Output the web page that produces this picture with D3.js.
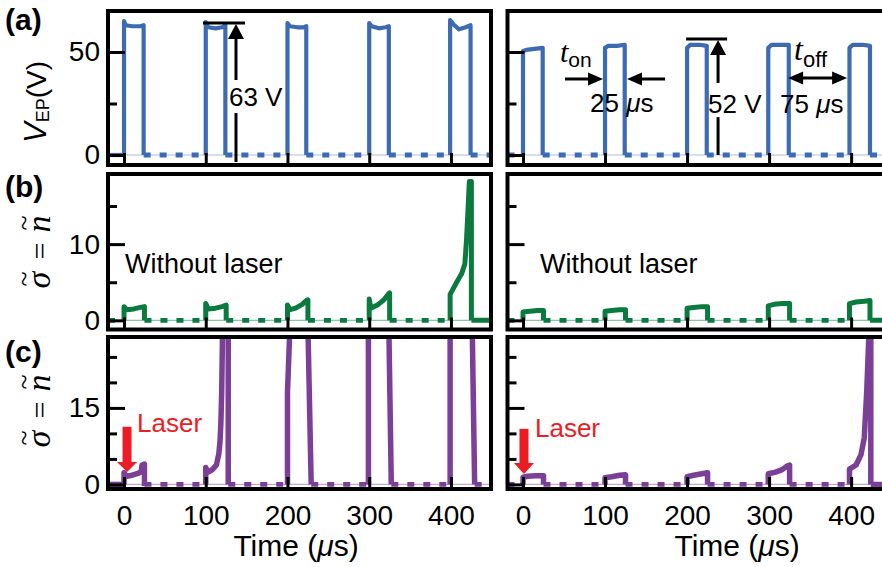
<!DOCTYPE html>
<html><head><meta charset="utf-8">
<script src="https://cdn.jsdelivr.net/npm/d3@7"></script>
<style>body{margin:0;background:#fff}svg{display:block}</style>
</head><body>
<svg id="chart" width="882" height="567"></svg>
<script>
// ---------------- data ----------------
const timeTicks = [0, 100, 200, 300, 400];
const timeDomainLeft = [-19.6, 449];
const timeDomainRight = [-18.9, 448];

const vepDomain = [-4.85, 69.9];
const vepMajor = [0, 50];
const vepMinor = [25];

const sigmaBDomain = [-1.2, 19.2];
const sigmaBMajor = [0, 10];
const sigmaBMinor = [5, 15];

const sigmaCDomain = [-0.9, 28.9];
const sigmaCMajor = [0, 15];
const sigmaCMinor = [5, 10, 20, 25];

// (a) left: V_EP pulses, peak 63 V
const vepLeft = [
  [[0,0],[0,65],[2,63],[10,62.5],[20,62.5],[24,63],[24,0]],
  [[100,0],[100,64.5],[103,62],[112,61.5],[120,62],[124,63],[124,0]],
  [[200,0],[200,64],[203,62.5],[212,62],[220,62],[223,62.5],[223,0]],
  [[300,0],[300,64],[303,62.5],[312,61.5],[320,62],[324,62.5],[324,0]],
  [[399,0],[399,65.5],[404,63],[410,61],[418,62],[424,63],[424,0]]
];
// (a) right: V_EP pulses, peak 52 V
const vepRight = [
  [[0,0],[0,50.5],[4,51],[14,51.5],[24,52],[24,0]],
  [[100,0],[100,52],[104,53],[115,53],[124,53.5],[124,0]],
  [[200,0],[200,52],[204,53.5],[215,53.5],[224,53],[224,0]],
  [[299,0],[299,52],[303,53.5],[315,53.5],[324,53.5],[324,0]],
  [[398,0],[398,52],[402,53.5],[414,53.5],[423,53],[423,0]]
];
// (b) left: sigma without laser
const sigmaBLeft = [
  [[0,0],[0,1.8],[3,1.4],[12,1.5],[20,1.7],[25,1.8],[25,0]],
  [[100,0],[100,2.2],[103,1.5],[112,1.6],[120,1.8],[125,2.0],[125,0]],
  [[200,0],[200,2.0],[203,1.4],[210,1.6],[218,2.1],[223,2.6],[225,2.7],[225,0]],
  [[300,0],[300,2.8],[302,1.6],[310,2.0],[318,2.7],[323,3.4],[325,3.6],[325,0]],
  [[399,0],[399,3.4],[407,5.0],[413,6.1],[417,7.4],[419,10.5],[421,14.8],[422.5,18.2],[425,18.2],[425,0]]
];
// (b) right: sigma without laser
const sigmaBRight = [
  [[0,0],[0,1.1],[8,1.2],[18,1.3],[25,1.3],[25,0]],
  [[100,0],[100,1.2],[108,1.3],[118,1.4],[125,1.4],[125,0]],
  [[200,0],[200,1.6],[208,1.7],[218,1.8],[225,1.8],[225,0]],
  [[299,0],[299,1.9],[306,2.1],[316,2.2],[325,2.2],[325,0]],
  [[398,0],[398,2.2],[406,2.4],[416,2.5],[423,2.6],[423,0]]
];
// (c) left: sigma with laser
const sigmaCLeft = [
  [[0,0],[0,2.3],[3,1.6],[10,1.8],[18,2.2],[21,2.5],[22,3.8],[25,4.0],[25,-0.3]],
  [[100,0],[100,3.3],[103,2.4],[108,2.9],[113,3.8],[116,6],[117.5,8.5],[118.5,12],[119.5,18],[120.5,29.5],[121,30],[127.5,30],[127.5,0]],
  [[200,0],[200,18],[203,31],[225,31],[229,0]],
  [[299,0],[299,31],[324,31],[327,0]],
  [[399,0],[399,31],[426,31],[429,0]]
];
// (c) right: sigma with laser
const sigmaCRight = [
  [[0,0],[0,1.4],[6,1.6],[15,1.7],[25,1.7],[25,0]],
  [[100,0],[100,1.3],[108,1.5],[118,1.8],[125,1.9],[125,0]],
  [[200,0],[200,1.5],[208,1.8],[218,2.1],[225,2.3],[225,0]],
  [[299,0],[299,2.1],[308,2.4],[316,2.9],[322,3.6],[325,3.8],[325,0]],
  [[398,0],[398,3.0],[406,3.8],[412,5.8],[416,9.1],[419,18.2],[421.5,28.7],[424,29.5],[424,0]]
];

// ---------------- layout ----------------
const BLUE = "#3d6bb3", GREEN = "#0a7a3e", PURPLE = "#7b3f98", RED = "#ec1c24";
const FONT = "'Liberation Sans', Arial, Helvetica, sans-serif";
const SERIF = "'Liberation Serif', 'DejaVu Serif', serif";

const panels = [
  {id:"aL", box:[108,11,491,165], tdom:timeDomainLeft, ydom:vepDomain, data:vepLeft, color:BLUE, light:"#a9bde2", sw:4.2, pre:"solid", post:"dash", major:vepMajor, minor:vepMinor, yLabels:true, xLabels:false},
  {id:"aR", box:[507.5,11,890.5,165], tdom:timeDomainRight, ydom:vepDomain, data:vepRight, color:BLUE, light:"#a9bde2", sw:4.2, pre:"dash", post:"dash", major:vepMajor, minor:vepMinor, yLabels:false, xLabels:false},
  {id:"bL", box:[108,174,491,329.5], tdom:timeDomainLeft, ydom:sigmaBDomain, data:sigmaBLeft, color:GREEN, light:"#8fc4a5", sw:5, pre:"dash", post:"solid", major:sigmaBMajor, minor:sigmaBMinor, yLabels:true, xLabels:false},
  {id:"bR", box:[507.5,174,890.5,329.5], tdom:timeDomainRight, ydom:sigmaBDomain, data:sigmaBRight, color:GREEN, light:"#8fc4a5", sw:5, pre:"dash", post:"solid", major:sigmaBMajor, minor:sigmaBMinor, yLabels:false, xLabels:false},
  {id:"cL", box:[108,337,491,489], tdom:timeDomainLeft, ydom:sigmaCDomain, data:sigmaCLeft, color:PURPLE, light:"#c3a6d3", sw:5.5, pre:"solid", post:"dash", major:sigmaCMajor, minor:sigmaCMinor, yLabels:true, xLabels:true},
  {id:"cR", box:[507.5,337,890.5,489], tdom:timeDomainRight, ydom:sigmaCDomain, data:sigmaCRight, color:PURPLE, light:"#c3a6d3", sw:5.5, pre:"dash", post:"solid", major:sigmaCMajor, minor:sigmaCMinor, yLabels:false, xLabels:true}
];

const svg = d3.select("#chart");
svg.append("rect").attr("width",882).attr("height",567).attr("fill","#fff");
const defs = svg.append("defs");
const S = {};

panels.forEach(p => {
  const [x0,y0,x1,y1] = p.box;
  const x = d3.scaleLinear().domain(p.tdom).range([x0,x1]);
  const y = d3.scaleLinear().domain(p.ydom).range([y1,y0]);
  S[p.id] = {x,y};
  defs.append("clipPath").attr("id","clip-"+p.id).append("rect")
    .attr("x",x0).attr("y",y0).attr("width",x1-x0).attr("height",y1-y0);
  const g = svg.append("g");
  const gc = g.append("g").attr("clip-path","url(#clip-"+p.id+")");
  const line = d3.line().x(d=>x(d[0])).y(d=>y(d[1]));

  gc.append("path").attr("d", line([[p.tdom[0],0],[p.tdom[1],0]]))
    .attr("stroke",p.light).attr("stroke-width",1.2).attr("fill","none");

  const segs = [];
  const first = p.data[0][0][0];
  const lastPulse = p.data[p.data.length-1];
  const last = lastPulse[lastPulse.length-1][0];
  segs.push({pts:[[p.tdom[0],0],[first,0]], style:p.pre});
  for (let i=0;i<p.data.length-1;i++){
    const a = p.data[i][p.data[i].length-1][0];
    const b = p.data[i+1][0][0];
    segs.push({pts:[[a,0],[b,0]], style:"dash"});
  }
  segs.push({pts:[[last,0],[p.tdom[1]+30,0]], style:p.post});
  segs.forEach(s => {
    gc.append("path").attr("d", line(s.pts)).attr("fill","none")
      .attr("stroke",p.color)
      .attr("stroke-width", s.style==="dash" ? 4.8 : p.sw)
      .attr("stroke-dasharray", s.style==="dash" ? "7 9" : null);
  });

  gc.selectAll("path.pulse").data(p.data).join("path").attr("class","pulse")
    .attr("d", line).attr("fill","none").attr("stroke",p.color)
    .attr("stroke-width",p.sw).attr("stroke-linejoin","round");

  const yMaj = g.append("g").attr("transform",`translate(${x0},0)`)
    .call(d3.axisRight(y).tickValues(p.major).tickSize(17).tickFormat(""));
  const yMin = g.append("g").attr("transform",`translate(${x0},0)`)
    .call(d3.axisRight(y).tickValues(p.minor).tickSize(9).tickFormat(""));
  const xT = g.append("g").attr("transform",`translate(0,${y1})`)
    .call(d3.axisTop(x).tickValues(timeTicks).tickSize(12).tickFormat(""));
  [yMaj,yMin,xT].forEach(a => {
    a.select(".domain").remove();
    a.selectAll("line").attr("stroke","#000").attr("stroke-width",3);
  });

  if (p.yLabels) {
    const yl = g.append("g").attr("transform",`translate(${x0},0)`)
      .call(d3.axisLeft(y).tickValues(p.major).tickSize(0).tickPadding(8).tickFormat(d3.format("d")));
    yl.select(".domain").remove();
    yl.selectAll("text").attr("font-family",FONT).attr("font-size",28).attr("fill","#000");
  }
  if (p.xLabels) {
    const xl = g.append("g").attr("transform",`translate(0,${y1})`)
      .call(d3.axisBottom(x).tickValues(timeTicks).tickSize(0).tickPadding(16).tickFormat(d3.format("d")));
    xl.select(".domain").remove();
    xl.selectAll("text").attr("font-family",FONT).attr("font-size",28).attr("fill","#000");
  }

  g.append("rect").attr("x",x0).attr("y",y0).attr("width",x1-x0).attr("height",y1-y0)
    .attr("fill","none").attr("stroke","#000").attr("stroke-width",4);
});

// ---------------- text & annotations ----------------
const ann = svg.append("g");
function txt(x, y, s, size, opts={}) {
  return ann.append("text").attr("x",x).attr("y",y).text(s)
    .attr("font-family",opts.family||FONT).attr("font-size",size)
    .attr("font-weight",opts.weight||"normal").attr("font-style",opts.style||"normal")
    .attr("fill",opts.fill||"#000").attr("text-anchor",opts.anchor||"start");
}
function seg(xa,ya,xb,yb,w,c){
  ann.append("line").attr("x1",xa).attr("y1",ya).attr("x2",xb).attr("y2",yb)
    .attr("stroke",c||"#000").attr("stroke-width",w||3);
}
function head(tx,ty,dir,len,hw,c){
  let pts;
  if (dir==="up") pts=[[tx,ty],[tx-hw,ty+len],[tx+hw,ty+len]];
  if (dir==="down") pts=[[tx,ty],[tx-hw,ty-len],[tx+hw,ty-len]];
  if (dir==="right") pts=[[tx,ty],[tx-len,ty-hw],[tx-len,ty+hw]];
  if (dir==="left") pts=[[tx,ty],[tx+len,ty-hw],[tx+len,ty+hw]];
  ann.append("path").attr("d","M"+pts.map(p=>p.join(",")).join("L")+"Z").attr("fill",c||"#000");
}

// panel letters
txt(5,30,"(a)",30,{weight:"bold"});
txt(5,197,"(b)",30,{weight:"bold"});
txt(5,362,"(c)",30,{weight:"bold"});

// y-axis titles
const vl = ann.append("text").attr("transform","translate(46,102) rotate(-90)")
  .attr("text-anchor","middle").attr("font-family",FONT).attr("fill","#000");
vl.append("tspan").attr("font-size",31).attr("font-style","italic").text("V");
vl.append("tspan").attr("font-size",18).attr("dy",3).text("EP");
vl.append("tspan").attr("font-size",28).attr("dy",-3).text("(V)");

[253, 412].forEach(cy => {
  const g = ann.append("g").attr("transform",`translate(50,${cy}) rotate(-90)`);
  const mk = (lx, s, style, size, ly) => g.append("text").attr("x",lx).attr("y",ly||0).text(s)
    .attr("font-family",SERIF).attr("font-size",size).attr("font-style",style)
    .attr("text-anchor","middle").attr("fill","#000");
  mk(-27, "\u03C3", "italic", 34);
  mk(-26, "~", "normal", 28, -17);
  mk(2, "=", "normal", 30);
  mk(29, "n", "italic", 34);
  mk(30, "~", "normal", 28, -17);
});

// x-axis titles
["cL","cR"].forEach(id => {
  const x = S[id].x;
  const t = ann.append("text").attr("x", id==="cL" ? x(210.5) : x(261)).attr("y",556)
    .attr("text-anchor","middle").attr("font-family",FONT).attr("font-size",30).attr("fill","#000");
  t.append("tspan").text("Time (");
  t.append("tspan").attr("font-style","italic").text("\u03BC");
  t.append("tspan").text("s)");
});

// (a) left annotation: 63 V
{
  const {x,y} = S.aL;
  seg(x(96.6), y(64.1), x(148), y(64.1), 3);
  seg(x(137), y(-3.4), x(137), y(20.4), 3);
  seg(x(137), y(36.4), x(137), y(58), 3);
  head(x(137), y(63.6), "up", 15, 8);
  txt(x(128.4), y(23.8), "63 V", 26);
}
// (a) right annotations
{
  const {x,y} = S.aR;
  const ton = txt(x(45.1), y(45.1), "", 30, {family:SERIF, style:"italic"});
  ton.append("tspan").text("t");
  ton.append("tspan").attr("font-family",FONT).attr("font-style","normal").attr("font-size",21).attr("dy",5).text("on");
  seg(x(51.2), y(36.9), x(90), y(36.9), 3);
  head(x(97.6), y(36.9), "right", 15, 6.5);
  seg(x(134), y(36.9), x(173.2), y(36.9), 3);
  head(x(126.8), y(36.9), "left", 15, 6.5);
  const t25 = txt(x(81.7), y(20.9), "25 ", 26);
  t25.append("tspan").attr("font-style","italic").text("\u03BC");
  t25.append("tspan").text("s");
  seg(x(198.8), y(56.3), x(248.8), y(56.3), 3);
  seg(x(237.8), y(0), x(237.8), y(18.4), 3);
  seg(x(237.8), y(35), x(237.8), y(50), 3);
  head(x(237.8), y(55.8), "up", 15, 8);
  txt(x(225.6), y(20.4), "52 V", 26);
  const toff = txt(x(330.5), y(46.1), "", 32, {family:SERIF, style:"italic"});
  toff.append("tspan").text("t");
  toff.append("tspan").attr("font-family",FONT).attr("font-style","normal").attr("font-size",22).attr("dy",7).text("off");
  seg(x(330), y(37.4), x(388), y(37.4), 3);
  head(x(323.2), y(37.4), "left", 15, 6.5);
  head(x(395.1), y(37.4), "right", 15, 6.5);
  const t75 = txt(x(313.4), y(20.4), "75 ", 26);
  t75.append("tspan").attr("font-style","italic").text("\u03BC");
  t75.append("tspan").text("s");
}
// (b) labels
txt(S.bL.x(1.2), S.bL.y(6.2), "Without laser", 27);
txt(S.bR.x(20.7), S.bR.y(6.2), "Without laser", 27);

// (c) laser arrows
[["cL",3.7,11.3,4.4,2.45,15.9,10.3],["cR",1.2,10.9,4.2,2.06,14.6,9.3]].forEach(([id,t,top,base,tip,lt,lv]) => {
  const {x,y} = S[id];
  ann.append("rect").attr("x",x(t)-4.5).attr("y",y(top)).attr("width",9).attr("height",y(base)-y(top)+1).attr("fill",RED);
  head(x(t), y(tip), "down", y(tip)-y(base), 10, RED);
  txt(x(lt), y(lv), "Laser", 26, {fill:RED});
});
</script>
</body></html>
